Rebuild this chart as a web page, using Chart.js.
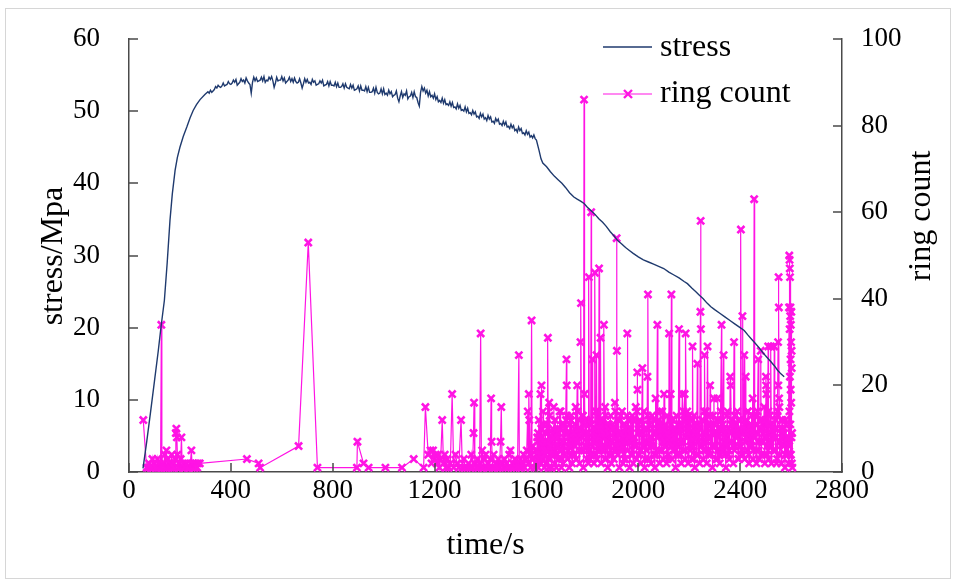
<!DOCTYPE html>
<html>
<head>
<meta charset="utf-8">
<script src="https://cdn.jsdelivr.net/npm/chart.js@4.4.1/dist/chart.umd.min.js"></script>
<style>
  html, body { margin: 0; padding: 0; background: #fff; }
  #wrap { position: relative; width: 956px; height: 580px; }
  #frame { position: absolute; left: 5px; top: 8px; width: 946px; height: 571px; border: 1px solid #d6d6d6; box-sizing: border-box; }
  canvas { position: absolute; left: 0; top: 0; }
</style>
</head>
<body>
<div id="wrap">
  <div id="frame"></div>
  <canvas id="stressChart" width="956" height="580"></canvas>
</div>
<script>
// axis ticks
const timeTicks = [0, 400, 800, 1200, 1600, 2000, 2400, 2800];
const stressTicks = [0, 10, 20, 30, 40, 50, 60];
const ringTicks = [0, 20, 40, 60, 80, 100];

// stress curve [time s, stress MPa]
const stressRise = [[55,0.5],[70,4.3],[85,8.4],[100,12.6],[115,16.8],[126,20.2],[139,23.8],[150,29.0],[161,34.9],[170,38.5],
  [181,41.8],[190,43.6],[200,45.0],[213,46.5],[227,47.8],[240,49.1],[252,50.1],[265,50.9],[279,51.6],[298,52.3]];

const stressPlateau = [[310,52.7],[320,52.9],[330,52.8],[340,53.4],[350,53.6],[360,53.3],[370,53.9],[380,53.6],[390,54.1],[400,53.7],
  [410,54.3],[420,54.4],[430,53.8],[440,54.5],[450,54.3],[460,54.6],[470,53.9],[480,52.5],[490,54.7],[500,54.6],
  [510,54.2],[520,54.7],[530,54.8],[540,54.3],[550,54.7],[560,54.8],[570,53.3],[580,54.7],[590,54.3],[600,54.8],
  [610,54.6],[620,54.1],[630,54.7],[640,54.5],[650,54.6],[660,53.9],[670,54.5],[680,53.2],[690,54.5],[700,54.4],
  [710,54.0],[720,54.4],[730,54.2],[740,53.7],[750,54.2],[760,54.3],[770,53.6],[780,54.1],[790,54.1],[800,53.6],
  [810,54.0],[820,53.9],[830,53.3],[840,53.8],[850,53.8],[860,53.2],[870,53.7],[880,53.6],[890,53.0],[900,53.5],
  [910,53.5],[920,52.9],[930,53.4],[940,53.3],[950,52.6],[960,53.2],[970,53.3],[980,52.4],[990,53.1],[1000,53.1],
  [1010,52.5],[1020,52.9],[1030,52.7],[1040,52.2],[1050,52.8],[1060,51.3],[1070,52.7],[1080,52.4],[1090,52.8],[1100,52.0],
  [1110,52.6],[1120,52.7],[1130,51.9],[1140,50.7],[1150,53.4],[1160,53.2],[1170,52.9],[1180,52.7],[1190,52.2],[1200,52.4],
  [1210,52.0],[1220,51.5],[1230,51.8],[1240,51.6],[1250,51.0],[1260,51.3],[1270,51.2],[1280,50.6],[1290,51.0],[1300,50.8],
  [1310,50.2],[1320,50.6],[1330,50.4],[1340,49.8],[1350,50.1],[1360,49.9],[1370,49.3],[1380,49.7],[1390,49.6],[1400,49.1],
  [1410,49.4],[1420,49.2],[1430,48.6],[1440,49.0],[1450,48.9],[1460,48.3],[1470,48.6],[1480,48.5],[1490,47.9],[1500,48.2],
  [1510,48.0],[1520,47.5],[1530,47.8],[1540,47.6],[1550,47.0],[1560,47.3],[1570,47.1],[1580,46.6],[1590,46.7],[1600,46.0]];

// short downward spikes between the plateau readings
const stressDips = [[315,52.5],[325,52.6],[335,53.0],[345,53.2],[355,53.4],[365,53.5],[375,53.5],[385,53.7],[395,53.8],[405,53.9],
  [415,54.0],[425,53.6],[435,54.0],[445,54.1],[455,53.9],[465,54.2],[475,53.7],[485,54.0],[495,54.2],[505,54.1],
  [515,54.3],[525,54.2],[535,54.0],[545,54.2],[555,54.4],[565,54.2],[575,53.9],[585,54.2],[595,54.3],[605,54.2],
  [615,53.9],[625,54.3],[635,54.1],[645,54.0],[655,54.1],[665,54.0],[675,53.9],[685,53.8],[695,54.0],[705,53.9],
  [715,53.7],[725,54.0],[735,53.6],[745,53.8],[755,53.9],[765,53.5],[775,53.7],[785,53.5],[795,53.6],[805,53.5],
  [815,53.4],[825,53.3],[835,53.4],[845,53.2],[855,53.3],[865,53.1],[875,53.2],[885,52.9],[895,53.1],[905,52.8],
  [915,52.9],[925,52.8],[935,52.7],[945,52.6],[955,52.7],[965,52.5],[975,52.6],[985,52.5],[995,52.4],[1005,52.3],
  [1015,52.2],[1025,52.4],[1035,52.0],[1045,52.3],[1055,51.8],[1065,52.1],[1075,51.9],[1085,52.2],[1095,51.7],[1105,52.1],
  [1115,51.9],[1125,52.0],[1135,51.2],[1145,52.6],[1155,52.8],[1165,52.5],[1175,52.1],[1185,52.0],[1195,51.8],[1205,51.6],
  [1215,51.3],[1225,51.2],[1235,51.1],[1245,50.9],[1255,50.8],[1265,50.7],[1275,50.5],[1285,50.3],[1295,50.4],[1305,50.1],
  [1315,50.0],[1325,49.9],[1335,49.7],[1345,49.5],[1355,49.6],[1365,49.2],[1375,49.0],[1385,49.2],[1395,48.9],[1405,48.7],
  [1415,48.9],[1425,48.5],[1435,48.3],[1445,48.6],[1455,48.2],[1465,48.0],[1475,48.1],[1485,47.8],[1495,47.6],[1505,47.7],
  [1515,47.3],[1525,47.1],[1535,47.3],[1545,46.9],[1555,46.7],[1565,46.8],[1575,46.4],[1585,46.3],[1595,46.2]];

const stressFall = [[1610,44.6],[1618,43.4],[1625,42.8],[1640,42.3],[1655,41.6],[1670,41.0],[1685,40.5],[1700,40.0],[1715,39.4],[1730,38.7],
  [1747,38.1],[1760,37.8],[1775,37.5],[1787,37.2],[1800,36.7],[1815,36.2],[1830,35.7],[1845,35.1],[1860,34.6],[1875,34.0],
  [1890,33.3],[1905,32.7],[1918,32.1],[1935,31.6],[1950,31.1],[1965,30.7],[1980,30.3],[2000,29.8],[2020,29.4],[2040,29.1],
  [2060,28.8],[2080,28.5],[2100,28.2],[2120,27.7],[2140,27.3],[2160,26.9],[2180,26.4],[2193,26.1],[2210,25.5],[2225,25.0],
  [2240,24.5],[2255,24.0],[2270,23.4],[2285,22.9],[2300,22.5],[2320,22.0],[2340,21.5],[2360,21.0],[2380,20.5],[2400,20.0],
  [2416,19.6],[2430,19.0],[2445,18.4],[2460,17.8],[2475,17.2],[2490,16.5],[2505,15.9],[2520,15.3],[2535,14.7],[2547,14.1],
  [2560,13.6],[2573,13.2]];

// ring count [time s, count]
const ringEarly = [[56,12],[69,1],[74,1],[79,2],[83,1],[88,1],[92,3],[96,1],[100,2],[104,1],
  [108,1],[112,3],[116,1],[120,2],[124,1],[127,34],[129,1],[133,2],[136,1],[140,4],
  [143,1],[147,5],[150,1],[153,3],[157,1],[161,2],[164,1],[168,4],[171,1],[175,2],
  [178,1],[181,3],[184,9],[186,10],[188,8],[190,4],[193,1],[196,2],[199,1],[203,3],
  [206,8],[209,1],[213,2],[217,1],[221,1],[226,2],[231,1],[236,1],[241,2],[245,5],
  [248,1],[252,2],[256,1],[260,1],[264,2],[268,1],[272,2],[278,2],[463,3],[509,2],
  [515,1],[666,6],[704,53],[740,1]];

const ringMiddle = [[895,1],[897,7],[921,2],[941,1],[1007,1],[1072,1],[1118,3],[1157,1],[1164,15],[1175,4],
  [1184,5],[1188,2],[1194,5],[1199,3],[1204,4],[1209,2],[1214,4],[1219,1],[1224,3],[1230,12],
  [1235,2],[1240,4],[1245,1],[1250,3],[1256,1],[1262,2],[1269,18],[1275,1],[1282,4],[1289,2],
  [1295,1],[1304,12],[1309,1],[1315,3],[1320,1],[1327,1],
  [1333,2],[1338,1],[1344,4],[1349,1],[1353,9],[1355,16],[1358,2],[1363,1],[1368,3],[1373,1],
  [1377,2],[1381,32],[1384,1],[1387,5],[1391,1],[1396,3],[1400,4],[1405,1],[1410,2],[1415,1],
  [1419,3],[1422,17],[1424,7],[1428,1],[1432,4],[1437,1],[1441,2],[1446,1],[1450,3],[1455,1],
  [1459,7],[1462,15],[1465,2],[1469,1],[1474,3],[1479,1],[1483,2],[1488,1],[1493,4],[1498,5],
  [1502,1],[1507,2],[1512,1],[1516,3],[1521,1],[1526,2],[1531,27],[1533,1],[1537,3],[1541,1],
  [1546,2],[1550,4],[1554,1],[1558,3],[1562,5],[1566,14],[1568,2],[1570,18],[1572,12],[1575,4],
  [1578,1],[1581,35],[1583,3],[1585,6]];

const ringLate = [[1588,3],[1592,1],[1596,5],[1600,2],[1604,7],[1607,1],[1611,4],[1616,18],[1618,2],[1620,20],
  [1623,3],[1627,6],[1631,1],[1635,9],[1638,2],[1642,5],[1645,31],[1647,1],[1650,16],[1653,3],
  [1657,8],[1660,1],[1664,4],[1668,15],[1671,2],[1675,6],[1678,1],[1682,10],[1686,3],[1690,5],
  [1695,14],[1698,1],[1702,7],[1705,2],[1709,11],[1712,4],[1716,12],[1718,26],[1719,20],[1722,3],
  [1726,9],[1729,1],[1733,6],[1736,13],[1740,2],[1743,8],[1747,4],[1750,10],[1754,15],[1757,3],
  [1760,20],[1763,7],[1767,12],[1770,2],[1773,30],[1775,39],[1777,5],[1781,9],[1784,1],[1787,86],
  [1789,18],[1792,6],[1795,11],[1798,3],[1801,8],[1804,2],[1806,45],[1808,5],[1811,12],[1815,60],
  [1817,4],[1820,26],[1823,9],[1826,2],[1830,46],[1832,7],[1836,27],[1838,3],[1841,14],[1844,6],
  [1846,47],[1848,10],[1852,31],[1854,2],[1857,12],[1860,5],[1865,34],[1867,8],[1870,15],[1873,3],
  [1877,11],[1880,1],[1884,9],[1887,4],[1891,13],[1894,2],[1897,7],[1901,10],[1904,3],[1908,16],
  [1911,6],[1915,54],[1916,28],[1919,4],[1922,12],[1926,1],[1929,9],[1933,5],[1936,14],[1940,2],
  [1943,8],[1947,11],[1950,3],[1954,7],[1957,32],[1959,5],[1962,12],[1966,1],[1969,10],[1973,4],
  [1976,13],[1980,2],[1983,8],[1987,6],[1990,15],[1993,3],[1996,23],[1997,19],[1999,9],[2003,4],
  [2006,12],[2010,2],[2013,9],[2016,24],[2018,6],[2022,14],[2025,1],[2029,10],[2032,5],[2036,22],
  [2038,41],[2040,3],[2044,11],[2047,7],[2051,2],[2054,13],[2058,6],[2061,9],[2065,1],[2068,17],
  [2071,4],[2075,34],[2077,8],[2080,12],[2084,2],[2087,10],[2091,5],[2094,14],[2098,3],[2101,18],
  [2104,6],[2107,11],[2111,2],[2114,9],[2118,4],[2121,32],[2123,7],[2127,18],[2130,41],[2132,3],
  [2136,12],[2139,5],[2143,10],[2146,1],[2150,13],[2153,6],[2157,9],[2160,33],[2162,4],[2166,11],
  [2169,2],[2173,18],[2176,7],[2179,12],[2182,18],[2184,3],[2186,32],[2189,8],[2192,14],[2196,2],
  [2199,10],[2203,5],[2206,12],[2210,3],[2213,29],[2215,6],[2219,13],[2222,1],[2226,9],[2229,4],
  [2232,25],[2234,7],[2238,11],[2241,2],[2244,37],[2245,58],[2246,33],[2248,6],[2252,12],[2255,3],
  [2258,9],[2260,27],[2263,5],[2266,14],[2269,2],[2272,29],[2274,8],[2278,11],[2282,20],[2284,4],
  [2288,10],[2291,1],[2294,13],[2297,17],[2299,6],[2302,9],[2305,3],[2308,12],[2311,17],[2313,5],
  [2317,10],[2320,2],[2324,14],[2327,34],[2329,6],[2332,11],[2335,27],[2337,4],[2341,9],[2344,1],
  [2348,13],[2351,6],[2355,10],[2358,3],[2361,22],[2363,20],[2366,7],[2369,12],[2373,2],[2376,30],
  [2378,5],[2382,11],[2385,8],[2389,14],[2392,3],[2396,10],[2399,6],[2403,56],[2405,4],[2409,36],
  [2411,9],[2416,27],[2418,3],[2422,22],[2424,12],[2428,5],[2431,14],[2435,2],[2438,10],[2442,6],
  [2445,13],[2449,17],[2451,3],[2455,63],[2457,8],[2461,11],[2464,2],[2468,14],[2471,26],[2473,5],
  [2477,10],[2481,28],[2483,4],[2487,12],[2490,7],[2494,15],[2497,2],[2501,22],[2502,20],[2503,18],
  [2505,6],[2508,11],[2510,29],[2512,3],[2516,13],[2519,7],[2521,29],[2523,2],[2527,10],[2530,5],
  [2534,29],[2536,8],[2540,12],[2543,2],[2547,14],[2549,30],[2550,20],[2551,45],[2552,38],[2553,17],
  [2554,15],[2556,4],[2559,10],[2562,2],[2566,12],[2569,6],[2573,9],[2576,1],[2580,11],[2583,4],
  [2587,8],[2590,2]];

// extra readings that fill the dense band after 1600 s
const ringLateFill = [[1602,5],[1606,9],[1613,3],[1621,8],[1625,6],[1629,11],[1633,4],[1640,7],[1644,10],[1649,3],
  [1655,6],[1662,9],[1666,5],[1673,12],[1680,4],[1684,8],[1688,6],[1693,10],[1700,3],[1707,7],
  [1714,9],[1724,5],[1731,11],[1738,4],[1745,8],[1752,6],[1765,10],[1779,13],[1786,5],[1794,9],
  [1800,7],[1810,3],[1813,11],[1819,6],[1828,8],[1834,4],[1843,10],[1850,5],[1856,9],[1862,12],
  [1869,3],[1875,7],[1882,10],[1889,6],[1896,4],[1899,11],[1906,8],[1913,5],[1924,9],[1931,13],
  [1938,6],[1945,3],[1952,10],[1964,7],[1971,12],[1978,4],[1985,8],[1992,6],[2001,11],[2008,5],
  [2020,9],[2027,3],[2034,7],[2042,12],[2049,6],[2056,10],[2063,4],[2073,8],[2082,5],[2089,11],
  [2096,7],[2109,9],[2116,3],[2125,12],[2134,6],[2141,8],[2148,10],[2155,4],[2164,7],[2171,11],
  [2178,5],[2194,9],[2201,13],[2208,6],[2217,3],[2224,10],[2236,8],[2250,12],[2257,5],[2265,7],
  [2276,4],[2286,11],[2293,9],[2303,6],[2310,3],[2315,8],[2322,12],[2330,5],[2339,10],[2346,7],
  [2353,4],[2360,9],[2371,11],[2380,6],[2387,8],[2394,3],[2401,12],[2407,5],[2413,10],[2420,7],
  [2426,9],[2433,4],[2440,11],[2447,6],[2453,8],[2459,13],[2466,5],[2475,3],[2479,10],[2485,7],
  [2492,9],[2499,12],[2506,4],[2514,6],[2518,11],[2525,8],[2532,5],[2538,10],[2545,3],[2558,7],
  [2564,9],[2571,6],[2578,12],[2585,4],[2589,8]];

const ringLateFill2 = [[1603,8],[1609,12],[1614,6],[1619,10],[1626,14],[1632,5],[1637,9],[1643,11],[1648,7],[1652,13],
  [1659,4],[1663,10],[1669,8],[1674,12],[1679,6],[1685,9],[1691,14],[1697,5],[1703,11],[1708,7],
  [1713,10],[1720,13],[1725,6],[1730,8],[1735,12],[1741,4],[1746,9],[1751,11],[1756,7],[1762,14],
  [1768,5],[1772,10],[1778,8],[1783,13],[1791,6],[1796,12],[1803,9],[1809,4],[1816,11],[1822,7],
  [1827,10],[1833,14],[1840,5],[1845,8],[1851,12],[1859,6],[1864,9],[1872,13],[1878,7],[1885,11],
  [1890,4],[1898,10],[1903,8],[1910,14],[1918,6],[1923,12],[1928,5],[1935,9],[1942,11],[1948,7],
  [1956,13],[1961,8],[1968,10],[1975,4],[1981,12],[1989,6],[1995,14],[2004,9],[2011,5],[2017,11],
  [2024,7],[2030,10],[2037,13],[2045,8],[2052,6],[2060,12],[2066,4],[2070,9],[2079,11],[2086,14],
  [2093,5],[2100,10],[2106,7],[2113,13],[2120,8],[2128,6],[2135,12],[2142,9],[2149,4],[2156,11],
  [2163,10],[2170,7],[2177,14],[2185,5],[2191,8],[2198,13],[2205,6],[2212,12],[2220,9],[2227,11],
  [2235,4],[2240,10],[2251,7],[2259,14],[2268,8],[2275,5],[2281,13],[2290,6],[2298,11],[2306,9],
  [2314,12],[2321,4],[2328,10],[2336,7],[2343,8],[2350,14],[2357,5],[2365,11],[2372,6],[2379,13],
  [2386,9],[2393,12],[2400,7],[2408,4],[2415,10],[2423,8],[2430,14],[2437,6],[2444,11],[2452,5],
  [2460,13],[2467,9],[2474,7],[2482,12],[2489,10],[2496,4],[2504,8],[2511,14],[2517,6],[2524,11],
  [2531,9],[2539,5],[2546,13],[2557,7],[2563,12],[2570,10],[2577,4],[2584,8]];

const ringEnd = [[2592,38],[2592.5,6],[2593,50],[2593.5,14],[2594,49],[2594.5,33],[2595,47],[2595.5,22],[2596,45],[2596.5,36],
  [2597,11],[2597.5,38],[2598,26],[2598.5,19],[2599,34],[2599.5,4],[2600,30],[2600.5,16],[2601,37],[2601.5,8],
  [2602,28],[2602.5,24],[2603,2],[2604,9],[2605,1]];

const navy = '#1f3a6e';
const magenta = '#ff14e4';
const axisColor = '#4a4a4a';
const serif = '"Liberation Serif", "Times New Roman", serif';

const toXY = p => ({ x: p[0], y: p[1] });
const byTime = (a, b) => a.x - b.x;
const stressData = stressRise.concat(stressPlateau, stressDips, stressFall).map(toXY).sort(byTime);
const ringData = ringEarly.concat(ringMiddle, ringLate, ringLateFill, ringLateFill2, ringEnd).map(toXY).sort(byTime);

// ticks drawn inward from the axis lines
const innerTicks = {
  id: 'innerTicks',
  afterDraw(chart) {
    const c = chart.ctx, a = chart.chartArea, s = chart.scales;
    c.save();
    c.strokeStyle = axisColor;
    c.lineWidth = 1.5;
    c.beginPath();
    s.y.ticks.forEach(t => { const p = Math.round(s.y.getPixelForValue(t.value)); c.moveTo(a.left, p); c.lineTo(a.left + 9, p); });
    s.y1.ticks.forEach(t => { const p = Math.round(s.y1.getPixelForValue(t.value)); c.moveTo(a.right, p); c.lineTo(a.right - 9, p); });
    s.x.ticks.forEach(t => { const p = Math.round(s.x.getPixelForValue(t.value)); c.moveTo(p, a.bottom); c.lineTo(p, a.bottom - 9); });
    c.stroke();
    c.restore();
  }
};

// vertical axis titles and legend
const labelsPlugin = {
  id: 'labelsPlugin',
  afterDraw(chart) {
    const c = chart.ctx;
    c.save();
    c.fillStyle = '#000';
    c.font = '32px ' + serif;
    c.textAlign = 'center';
    c.textBaseline = 'middle';
    [['stress/Mpa', 54, 256], ['ring count', 922, 216]].forEach(([txt, x, y]) => {
      c.save(); c.translate(x, y); c.rotate(-Math.PI / 2); c.fillText(txt, 0, 0); c.restore();
    });

    c.textAlign = 'left';
    c.textBaseline = 'alphabetic';
    c.lineWidth = 1.5;
    c.strokeStyle = navy;
    c.beginPath(); c.moveTo(603, 47); c.lineTo(652, 47); c.stroke();
    c.fillText('stress', 660, 56);

    c.strokeStyle = magenta;
    c.lineWidth = 1.2;
    c.beginPath(); c.moveTo(603, 94); c.lineTo(652, 94); c.stroke();
    c.lineWidth = 2.4;
    c.beginPath();
    c.moveTo(624, 90); c.lineTo(632, 98);
    c.moveTo(632, 90); c.lineTo(624, 98);
    c.stroke();
    c.fillText('ring count', 660, 102);
    c.restore();
  }
};

const tickFont = { family: serif, size: 27 };
const plainLabel = v => String(v);
// keep the label padding of the vertical axes from pushing the plot area down
const fixVertical = w => s => { s.width = w; s.paddingTop = 0; s.paddingBottom = 0; };

new Chart(document.getElementById('stressChart'), {
  type: 'line',
  data: {
    datasets: [
      {
        label: 'stress',
        data: stressData,
        yAxisID: 'y',
        borderColor: navy,
        borderWidth: 1.4,
        pointRadius: 0,
        tension: 0,
        order: 0
      },
      {
        label: 'ring count',
        data: ringData,
        yAxisID: 'y1',
        borderColor: magenta,
        borderWidth: 1.2,
        pointStyle: 'crossRot',
        pointRadius: 5,
        pointBorderWidth: 2.6,
        pointBorderColor: magenta,
        pointBackgroundColor: magenta,
        tension: 0,
        clip: false,
        order: 1
      }
    ]
  },
  options: {
    responsive: false,
    animation: false,
    events: [],
    layout: { padding: { top: 39, left: 0, right: 0, bottom: 0 } },
    plugins: { legend: { display: false }, tooltip: { enabled: false } },
    scales: {
      x: {
        type: 'linear',
        min: 0, max: 2800,
        afterBuildTicks: s => { s.ticks = timeTicks.map(v => ({ value: v })); },
        afterFit: s => { s.height = 108; },
        grid: { drawOnChartArea: false, drawTicks: false },
        border: { color: axisColor, width: 1.5 },
        ticks: { color: '#000', font: tickFont, padding: 3, maxRotation: 0, callback: plainLabel },
        title: { display: true, text: 'time/s', color: '#000', font: { family: serif, size: 32 }, padding: { top: 0, bottom: 15 } }
      },
      y: {
        position: 'left',
        min: 0, max: 60,
        afterBuildTicks: s => { s.ticks = stressTicks.map(v => ({ value: v })); },
        afterFit: fixVertical(129),
        grid: { drawOnChartArea: false, drawTicks: false },
        border: { color: axisColor, width: 1.5 },
        ticks: { color: '#000', font: tickFont, padding: 29, callback: plainLabel }
      },
      y1: {
        position: 'right',
        min: 0, max: 100,
        afterBuildTicks: s => { s.ticks = ringTicks.map(v => ({ value: v })); },
        afterFit: fixVertical(114),
        grid: { drawOnChartArea: false, drawTicks: false },
        border: { color: axisColor, width: 1.5 },
        ticks: { color: '#000', font: tickFont, padding: 19, callback: plainLabel }
      }
    }
  },
  plugins: [innerTicks, labelsPlugin]
});
</script>
</body>
</html>
